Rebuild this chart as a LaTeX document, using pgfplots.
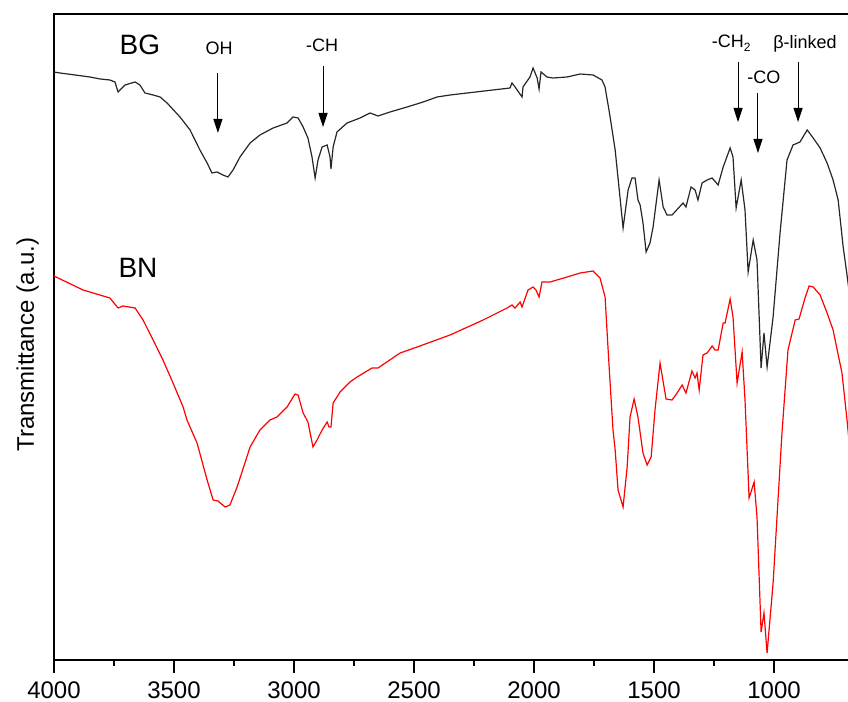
\documentclass[border=0pt]{standalone}
\usepackage{fontspec}
\setmainfont{Liberation Sans}
\usepackage{pgfplots}
\pgfplotsset{compat=1.18}
\usetikzlibrary{arrows.meta}
\begin{document}
\begin{tikzpicture}
\begin{axis}[
  width=397pt, height=323pt, scale only axis,
  x dir=reverse, xmin=692, xmax=4000, ymin=0, ymax=646,
  axis x line*=bottom, axis y line*=left,
  axis line style={line width=1pt},
  xtick={1000,1500,...,4000}, minor x tick num=1,
  ytick=\empty,
  tick align=outside,
  major tick length=6.5pt, minor tick length=3pt,
  tick style={line width=1pt, black},
  /pgf/number format/1000 sep={},
  /pgf/number format/assume math mode=true,
  xticklabel style={font=\fontsize{12}{14}\selectfont, yshift=-1pt},
  ylabel={Transmittance (a.u.)},
  ylabel style={font=\fontsize{12}{14}\selectfont, at={(axis description cs:-0.033,0.488)}, anchor=center},
  clip=true,
]
% BG
\addplot[black!85, line width=0.6pt] coordinates {
(4000,588) (3975,587) (3912,585) (3850,583) (3808,581) (3767,580) (3746,578) (3733,568)
(3725,570) (3704,575) (3662,578) (3642,575) (3621,567) (3587,565) (3558,563) (3529,557)
(3475,543) (3433,530) (3392,510) (3362,497) (3342,487) (3321,488) (3296,485) (3275,483)
(3254,490) (3225,503) (3183,517) (3142,525) (3087,532) (3029,537) (3004,543) (2983,542)
(2962,533) (2942,522) (2925,503) (2912,482) (2900,500) (2883,513) (2862,515) (2850,503)
(2846,491) (2837,513) (2821,528) (2779,537) (2725,542) (2683,547) (2650,544) (2600,548)
(2529,553) (2462,558) (2404,563) (2350,565) (2100,572) (2092,577) (2079,573) (2050,563)
(2046,573) (2017,583) (2004,592) (1987,582) (1979,571) (1971,588) (1946,583) (1921,582)
(1862,583) (1808,586) (1754,585) (1717,580) (1704,573) (1683,543) (1662,510) (1642,463)
(1629,432) (1608,470) (1592,482) (1579,482) (1567,460) (1558,455) (1546,437) (1533,408)
(1517,417) (1504,433) (1479,480) (1462,453) (1446,445) (1425,445) (1379,457) (1367,453)
(1346,473) (1329,470) (1317,460) (1300,477) (1279,480) (1258,482) (1233,475) (1212,493)
(1183,512) (1171,503) (1158,452) (1137,480) (1121,450) (1108,388) (1087,420) (1071,400)
(1054,292) (1042,327) (1029,293) (1004,343) (975,427) (946,500) (921,515) (892,518)
(862,530) (837,522) (808,512) (779,497) (754,480) (733,460) (712,413) (696,385) (688,370)
};
% BN
\addplot[red, line width=0.6pt] coordinates {
(4000,384) (3879,370) (3767,362) (3733,352) (3712,354) (3662,352) (3629,340) (3587,320)
(3546,300) (3504,277) (3462,253) (3446,240) (3404,217) (3362,180) (3337,160) (3317,159)
(3287,153) (3267,155) (3237,173) (3183,213) (3142,230) (3100,240) (3071,243) (3029,253)
(2996,266) (2983,265) (2962,247) (2942,238) (2921,213) (2904,220) (2883,230) (2862,238)
(2854,233) (2846,233) (2837,257) (2808,268) (2767,278) (2737,283) (2675,292) (2650,292)
(2558,307) (2487,313) (2350,325) (2212,340) (2112,352) (2092,355) (2079,352) (2058,358)
(2050,353) (2025,370) (2004,373) (1992,370) (1979,363) (1967,378) (1933,378) (1862,383)
(1808,387) (1754,389) (1725,382) (1704,363) (1692,313) (1683,277) (1671,230) (1662,210)
(1650,170) (1629,153) (1612,193) (1600,243) (1583,261) (1567,243) (1546,207) (1529,195)
(1512,203) (1496,250) (1475,297) (1450,261) (1425,260) (1404,267) (1383,275) (1367,267)
(1342,289) (1329,282) (1321,287) (1312,270) (1296,305) (1279,307) (1258,314) (1246,310)
(1233,310) (1212,337) (1204,337) (1183,361) (1171,343) (1154,277) (1133,308) (1121,260)
(1104,162) (1083,178) (1071,143) (1054,28) (1042,47) (1029,7) (1004,77) (967,227)
(942,310) (912,340) (896,341) (871,362) (854,374) (837,373) (808,365) (779,347)
(754,330) (737,310) (717,287) (696,240) (688,220)
};
\coordinate (sw) at (rel axis cs:0,0);
\coordinate (ne) at (rel axis cs:1,1);
\coordinate (nw) at (rel axis cs:0,1);
% labels
\node[font=\fontsize{14}{16}\selectfont] at (axis cs:3642,615) {BG};
\node[font=\fontsize{14}{16}\selectfont] at (axis cs:3650,392) {BN};
\node[font=\fontsize{9}{11}\selectfont] at (axis cs:3312,612) {OH};
\node[font=\fontsize{9}{11}\selectfont] at (axis cs:2883,615) {-CH};
\node[font=\fontsize{9}{11}\selectfont] at (axis cs:1179,617) {-CH\raisebox{-0.45ex}{\fontsize{6}{7}\selectfont 2}};
\node[font=\fontsize{9}{11}\selectfont] at (axis cs:1042,583) {-CO};
\node[font=\fontsize{9}{11}\selectfont] at (axis cs:871,616) {β-linked};
% arrows
\draw[line width=0.5pt, -{Triangle[length=7pt,width=4.5pt]}] (axis cs:3317,587) -- (axis cs:3317,527);
\draw[line width=0.5pt, -{Triangle[length=7pt,width=4.5pt]}] (axis cs:2879,594) -- (axis cs:2879,533);
\draw[line width=0.5pt, -{Triangle[length=7pt,width=4.5pt]}] (axis cs:1150,598) -- (axis cs:1150,538);
\draw[line width=0.5pt, -{Triangle[length=7pt,width=4.5pt]}] (axis cs:1067,567) -- (axis cs:1067,507);
\draw[line width=0.5pt, -{Triangle[length=7pt,width=4.5pt]}] (axis cs:900,598) -- (axis cs:900,538);
\end{axis}
\draw[line width=1pt] ([xshift=-0.5pt]nw) -- (ne);
\pgfresetboundingbox
\useasboundingbox ([shift={(-27pt,-21pt)}]sw) rectangle ([shift={(0pt,7pt)}]ne);
\end{tikzpicture}
\end{document}
